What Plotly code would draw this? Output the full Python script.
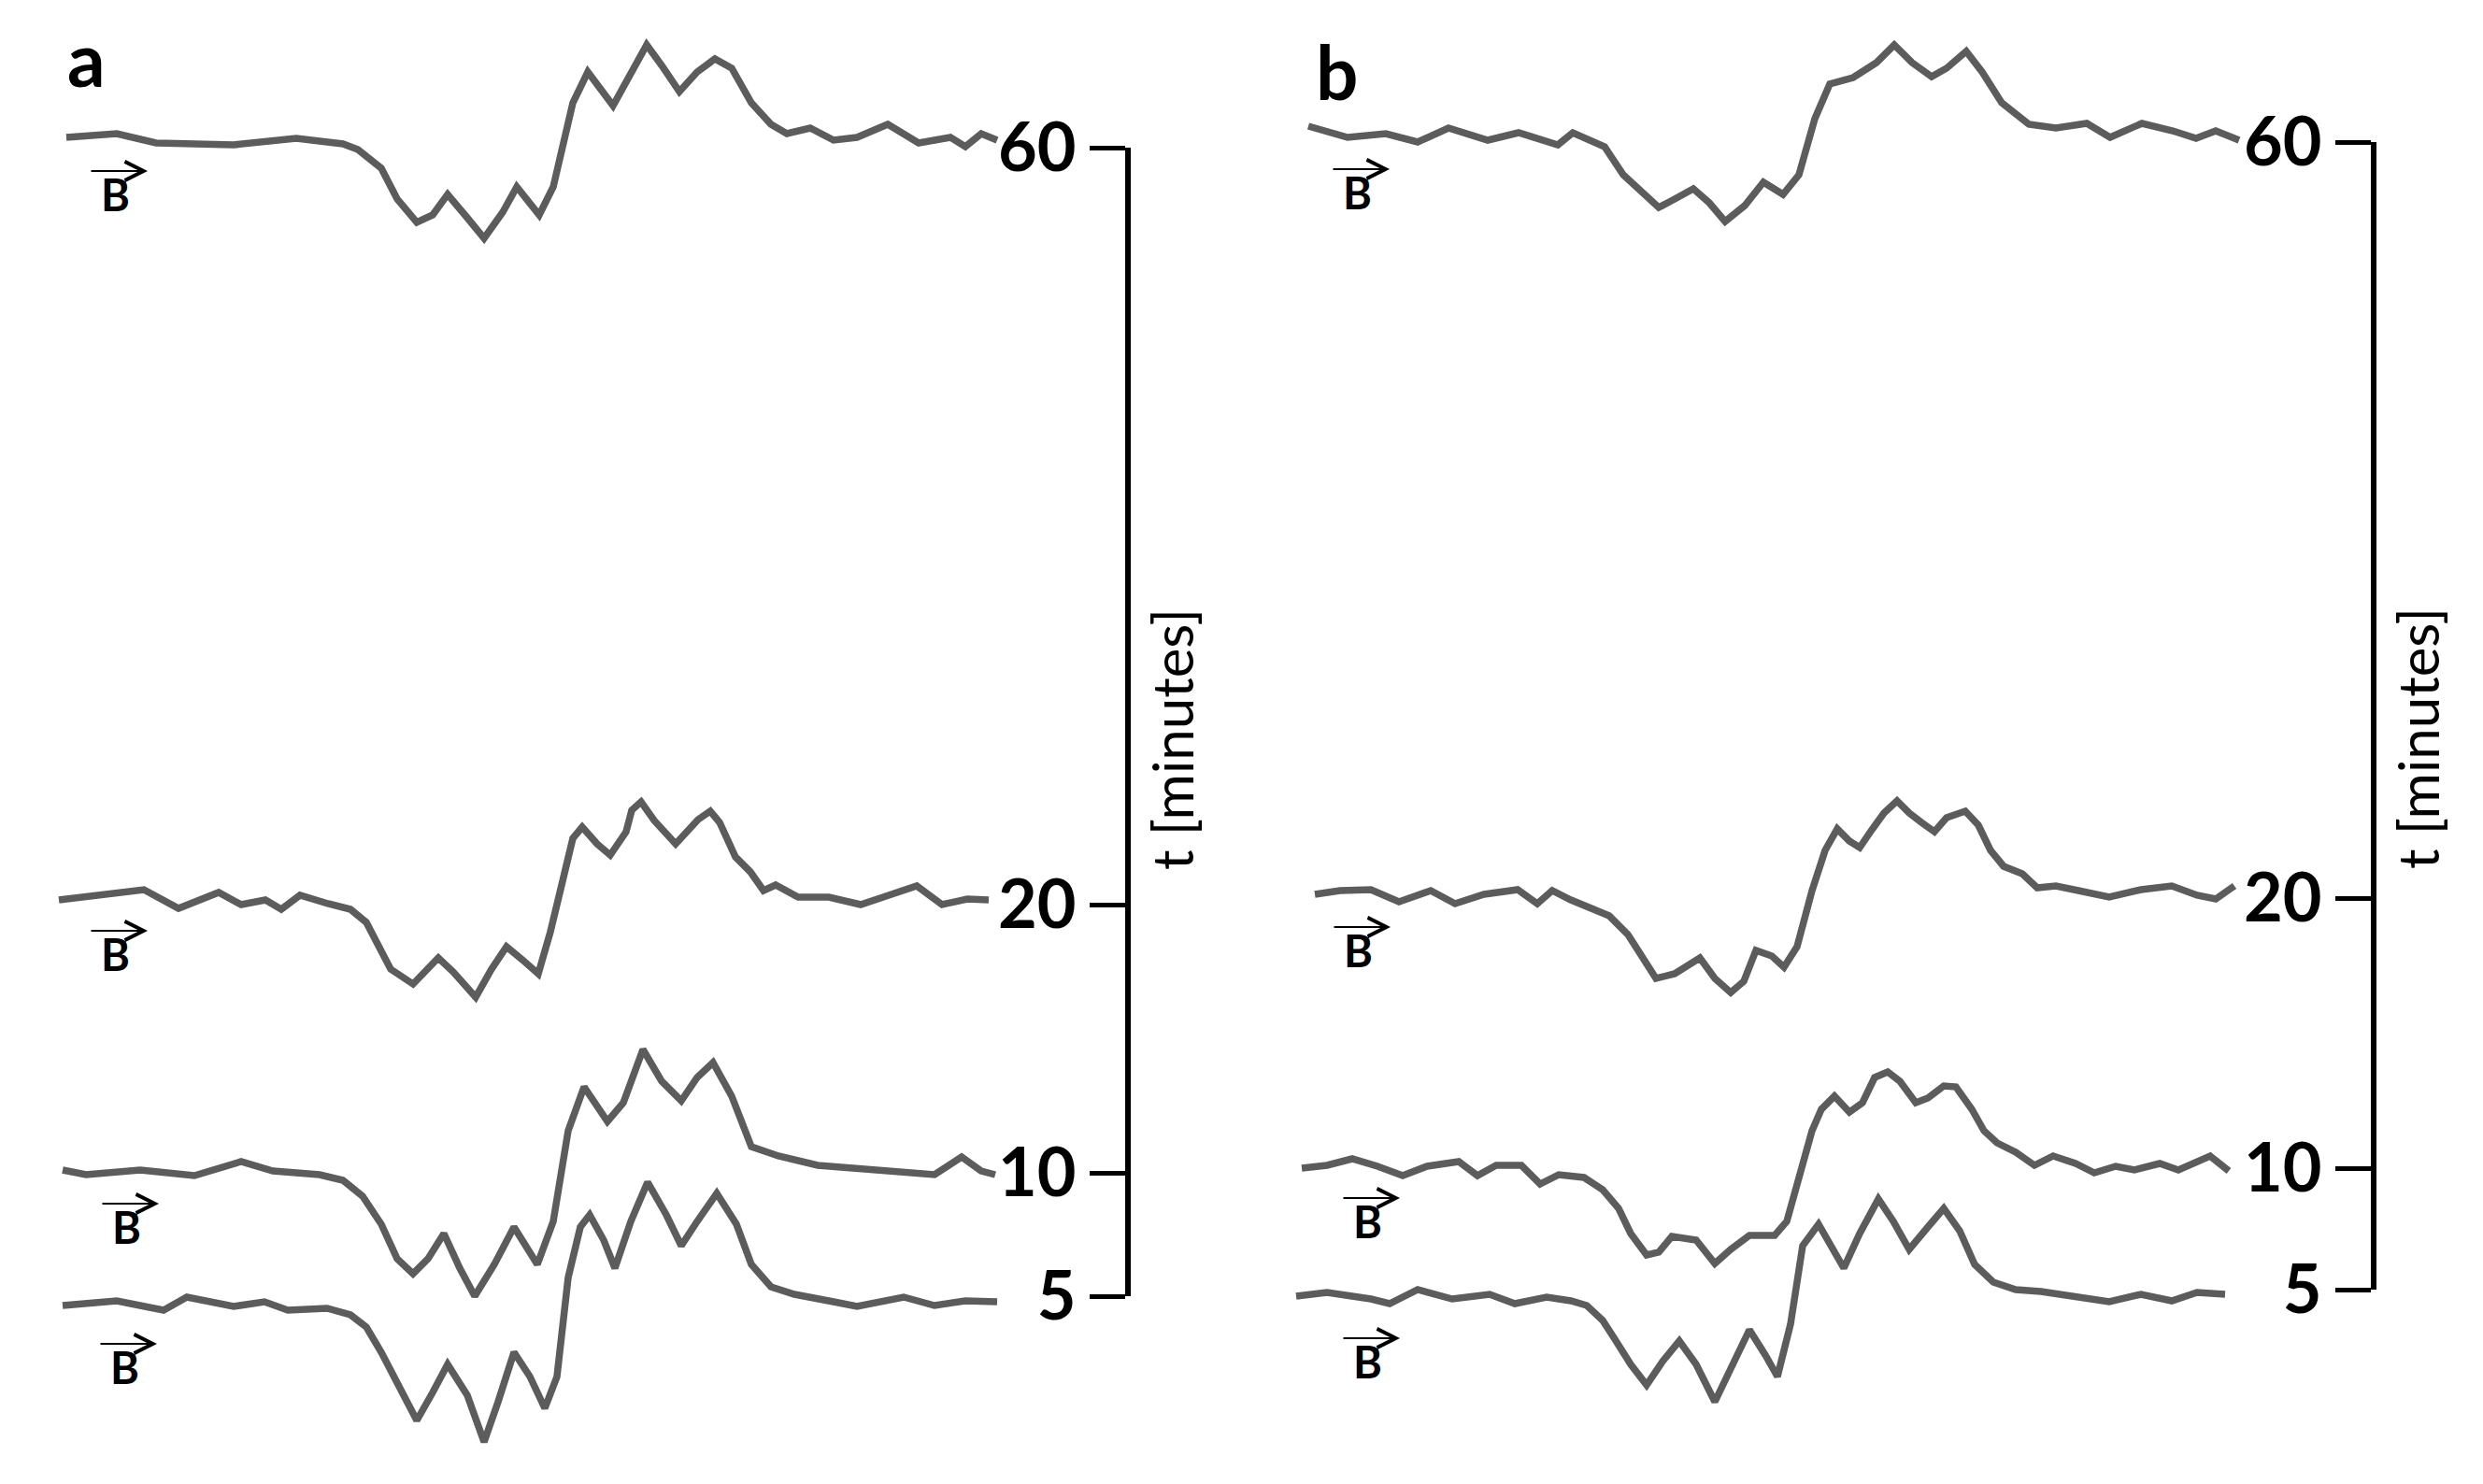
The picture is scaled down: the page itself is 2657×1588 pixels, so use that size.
import plotly.graph_objects as go

W, H = 2657, 1588

# ---------------- data (field in a.u., signal amplitude in a.u. relative to the time tick) -------------
times = [60, 20, 10, 5]
time_labels = ["60", "20", "10", "5"]

# Panel a
a60_field = [11, 65, 107, 190, 257, 307, 323, 348, 365, 386, 403, 419, 440, 458, 478, 493, 517, 532, 553, 569,
             596, 615, 632, 648, 667, 686, 705, 723, 744, 765, 782, 807, 832, 857, 890, 923, 957, 973, 990, 1007]
a60_amp = [11, 15, 5, 3, 10, 4, -2, -22, -55, -80, -72, -50, -75, -97, -69, -42, -72, -42, 48, 81,
           45, 78, 110, 88, 60, 81, 95, 85, 48, 25, 15, 21, 8, 11, 25, 5, 11, 1, 15, 8]

a20_field = [3, 57, 94, 131, 174, 198, 224, 241, 261, 291, 315, 332, 345, 358, 382, 409, 425, 449, 466, 482,
             499, 516, 529, 543, 553, 563, 579, 593, 610, 616, 626, 640, 663, 687, 700, 710, 727, 743, 757, 770,
             794, 827, 861, 891, 921, 948, 975, 998]
a20_amp = [5, 11, 16, -4, 13, 0, 5, -5, 10, 1, -5, -19, -45, -69, -85, -57, -72, -99, -69, -45,
           -59, -74, -29, 31, 71, 83, 65, 53, 78, 101, 110, 90, 65, 91, 100, 88, 51, 35, 15, 21,
           8, 8, 0, 10, 20, 0, 6, 5]

a10_field = [7, 32, 90, 148, 198, 232, 282, 307, 328, 348, 365, 382, 398, 415, 432, 448, 469, 490, 515, 532,
             548, 565, 590, 607, 628, 648, 669, 686, 703, 723, 744, 773, 815, 857, 907, 940, 969, 990, 1005]
a10_amp = [3, -2, 3, -3, 12, 2, -2, -8, -25, -55, -92, -108, -92, -65, -102, -132, -98, -58, -98, -52,
           45, 92, 55, 75, 132, 98, 77, 102, 118, 82, 28, 18, 8, 5, 2, -2, 17, 2, -2]

a5_field = [7, 65, 115, 140, 190, 223, 248, 290, 315, 332, 348, 369, 386, 403, 419, 440, 458, 473, 490, 507,
            523, 536, 548, 561, 571, 586, 598, 615, 633, 653, 669, 686, 707, 728, 744, 765, 790, 832, 857, 907,
            940, 973, 1007]
a5_amp = [-10, -5, -15, -1, -11, -6, -15, -13, -20, -33, -60, -100, -133, -103, -73, -106, -156, -113, -60, -86,
          -120, -86, 20, 74, 87, 60, 30, 80, 122, 87, 54, 80, 110, 77, 34, 10, 2, -6, -11, -1,
          -10, -5, -6]

# Panel b
b60_field = [20, 62, 103, 137, 170, 212, 245, 287, 303, 337, 357, 378, 395, 412, 432, 449, 466, 487, 507, 528,
             545, 562, 578, 603, 628, 647, 666, 687, 703, 724, 741, 762, 791, 820, 853, 878, 912, 945, 970, 991,
             1016]
b60_amp = [17, 5, 9, 0, 15, 2, 10, -3, 10, -5, -35, -55, -70, -61, -50, -65, -85, -68, -43, -56,
           -35, 25, 62, 69, 85, 104, 85, 70, 79, 97, 75, 42, 19, 15, 20, 5, 20, 12, 4, 12,
           2]

b20_field = [27, 54, 87, 117, 151, 177, 208, 244, 265, 281, 301, 321, 342, 362, 375, 392, 412, 439, 455, 472,
             486, 499, 516, 529, 543, 559, 573, 586, 599, 610, 623, 636, 650, 663, 676, 690, 703, 723, 737, 750,
             764, 784, 800, 820, 844, 877, 911, 944, 971, 991, 1011]
b20_amp = [4, 8, 9, -4, 8, -6, 4, 9, -6, 8, -2, -11, -19, -39, -59, -86, -81, -64, -86, -101,
           -89, -56, -62, -74, -52, 8, 51, 74, 61, 54, 73, 91, 104, 91, 81, 71, 86, 93, 78, 51,
           34, 26, 11, 13, 8, 1, 9, 13, 3, -1, 13]

b10_field = [13, 40, 67, 94, 121, 147, 181, 201, 221, 248, 268, 288, 315, 335, 352, 365, 382, 395, 409, 435,
             455, 472, 492, 519, 532, 546, 559, 569, 583, 599, 613, 626, 640, 653, 670, 683, 700, 713, 730, 743,
             757, 777, 797, 817, 841, 861, 884, 904, 931, 951, 985, 1005]
b10_amp = [0, 3, 10, 2, -8, 2, 7, -8, 3, 3, -17, -7, -10, -23, -43, -70, -93, -90, -73, -77,
           -102, -87, -72, -72, -57, -10, 40, 63, 77, 60, 70, 97, 103, 93, 70, 75, 88, 87, 63, 40,
           27, 17, 3, 13, 5, -5, 2, -2, 5, -2, 13, -3]

b5_field = [7, 40, 87, 107, 137, 174, 214, 241, 275, 301, 318, 335, 348, 365, 382, 399, 417, 435, 455, 472,
            492, 509, 522, 536, 549, 566, 579, 593, 610, 630, 646, 663, 683, 700, 717, 733, 753, 777, 804, 844,
            877, 911, 944, 971, 1001]
b5_amp = [-7, -3, -10, -15, 0, -10, -5, -15, -8, -12, -17, -33, -53, -80, -102, -77, -55, -80, -120, -83,
          -43, -70, -93, -37, 47, 70, 47, 23, 60, 97, 73, 43, 67, 87, 63, 27, 8, 0, -2, -7,
          -13, -5, -12, -3, -5]

# ---------------- layout helpers (stacking positions, label placement) ----------------
stack_a = {60: 1430, 20: 620, 10: 333, 5: 201}
stack_b = {60: 1436, 20: 627, 10: 338, 5: 208}
# B-arrow label placement: (field position, drop below baseline)
blab_a = {60: (63, 50), 20: (63, 53), 10: (75, 58), 5: (73, 76)}
blab_b = {60: (72, 54), 20: (73, 56), 10: (83, 57), 5: (83, 77)}

LINE = "#5c5c5c"
FONT = "Lato"

panels = [
    dict(xa="x", ya="y", stack=stack_a, blab=blab_a,
         data={60: (a60_field, a60_amp), 20: (a20_field, a20_amp),
               10: (a10_field, a10_amp), 5: (a5_field, a5_amp)}),
    dict(xa="x2", ya="y2", stack=stack_b, blab=blab_b,
         data={60: (b60_field, b60_amp), 20: (b20_field, b20_amp),
               10: (b10_field, b10_amp), 5: (b5_field, b5_amp)}),
]

fig = go.Figure()
annotations = []
for p in panels:
    for t in times:
        f, amp = p["data"][t]
        base = p["stack"][t]
        fig.add_trace(go.Scatter(
            x=f, y=[base + v for v in amp], mode="lines",
            line=dict(color=LINE, width=7.5), xaxis=p["xa"], yaxis=p["ya"],
            showlegend=False, hoverinfo="skip"))
        bx, drop = p["blab"][t]
        by = base - drop
        annotations.append(dict(x=bx, y=by, xref=p["xa"], yref=p["ya"], text="B",
                                showarrow=False, xanchor="center", yanchor="middle",
                                font=dict(family=FONT, size=47, color="black", weight="bold")))
        annotations.append(dict(x=bx + 35, y=by + 25, xref=p["xa"], yref=p["ya"], text="",
                                showarrow=True, arrowhead=5, arrowsize=1.8, arrowwidth=2.2,
                                arrowcolor="black", ax=-62, ay=0, standoff=0))

# invisible anchors for the time axes
for xa, ya, st in (("x3", "y3", stack_a), ("x4", "y4", stack_b)):
    fig.add_trace(go.Scatter(x=[0.5] * len(times), y=[st[t] for t in times], mode="markers",
                             marker=dict(opacity=0), xaxis=xa, yaxis=ya,
                             showlegend=False, hoverinfo="skip"))

time_axis = dict(showline=True, linecolor="black", linewidth=6, ticks="outside", ticklen=38,
                 tickwidth=5, tickcolor="black", showgrid=False, zeroline=False,
                 tickfont=dict(family=FONT, size=72, color="black", weight="bold"),
                 anchor="free", side="left", fixedrange=True, automargin=False)

# panel letters and axis titles
annotations += [
    dict(x=92 / W, y=1 - 62 / H, xref="paper", yref="paper", text="a", showarrow=False,
         xanchor="center", yanchor="middle", font=dict(family=FONT, size=80, color="black", weight="bold")),
    dict(x=1430 / W, y=1 - 76 / H, xref="paper", yref="paper", text="b", showarrow=False,
         xanchor="center", yanchor="middle", font=dict(family=FONT, size=80, color="black", weight="bold")),
    dict(x=1254 / W, y=1 - 791 / H, xref="paper", yref="paper", text="t [minutes]", showarrow=False,
         textangle=-90, xanchor="center", yanchor="middle", font=dict(family=FONT, size=60, color="black")),
    dict(x=2587 / W, y=1 - 790 / H, xref="paper", yref="paper", text="t [minutes]", showarrow=False,
         textangle=-90, xanchor="center", yanchor="middle", font=dict(family=FONT, size=60, color="black")),
]

fig.update_layout(
    width=W, height=H, margin=dict(l=0, r=0, t=0, b=0, pad=0, autoexpand=False),
    paper_bgcolor="white", plot_bgcolor="rgba(0,0,0,0)",
    xaxis=dict(domain=[60 / W, 1090 / W], range=[0, 1030], visible=False, anchor="y"),
    yaxis=dict(domain=[0, 1], range=[0, H], visible=False, anchor="x"),
    xaxis2=dict(domain=[1380 / W, 2410 / W], range=[0, 1030], visible=False, anchor="y2"),
    yaxis2=dict(domain=[0, 1], range=[0, H], visible=False, anchor="x2"),
    xaxis3=dict(domain=[0.40, 0.45], range=[0, 1], visible=False, anchor="y3"),
    yaxis3=dict(domain=[stack_a[5] / H, stack_a[60] / H], range=[stack_a[5], stack_a[60]],
                position=1207 / W, tickvals=[stack_a[t] for t in times], ticktext=time_labels, **time_axis),
    xaxis4=dict(domain=[0.90, 0.95], range=[0, 1], visible=False, anchor="y4"),
    yaxis4=dict(domain=[stack_b[5] / H, stack_b[60] / H], range=[stack_b[5], stack_b[60]],
                position=2540 / W, tickvals=[stack_b[t] for t in times], ticktext=time_labels, **time_axis),
    annotations=annotations,
)

fig.write_html("out.html", config={"displayModeBar": False},
               post_script="document.body.style.margin='0px';")
